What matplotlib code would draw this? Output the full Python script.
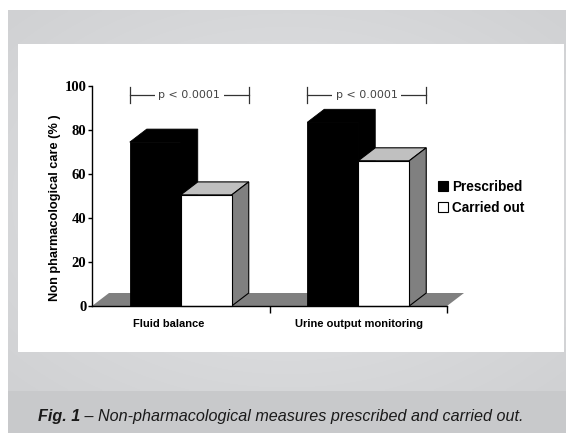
import numpy as np
import matplotlib
matplotlib.use('Agg')
import matplotlib.pyplot as plt
from matplotlib.patches import Rectangle, Polygon, Patch

# ---------------- data ----------------
categories = ['Fluid balance', 'Urine output monitoring']
series_names = ['Prescribed', 'Carried out']
prescribed = [74.5, 83.5]
carried_out = [50.5, 66.0]
p_labels = ['p < 0.0001', 'p < 0.0001']
y_ticks = [0, 20, 40, 60, 80, 100]
y_label = 'Non pharmacological care (% )'
caption_bold = 'Fig. 1'
caption_rest = ' \u2013 Non-pharmacological measures prescribed and carried out.'

# ---------------- figure ----------------
W, H = 566, 433
fig = plt.figure(figsize=(W / 100, H / 100), dpi=100)
fig.patch.set_facecolor('white')

SANS = ['Liberation Sans', 'DejaVu Sans']
SERIF = ['Liberation Serif', 'DejaVu Serif']

# background layer in pixel coordinates
bg = fig.add_axes([0, 0, 1, 1], zorder=0)
bg.set_xlim(0, W)
bg.set_ylim(H, 0)
bg.axis('off')

yy, xx = np.mgrid[0:120:1, 0:240:1]
r = np.sqrt(((xx / 239) - 0.5) ** 2 * 4 + ((yy / 119) - 0.5) ** 2 * 4) / np.sqrt(2)
c_center = np.array([228, 229, 231]) / 255
c_edge = np.array([208, 209, 211]) / 255
grad = c_center[None, None, :] + (c_edge - c_center)[None, None, :] * r[:, :, None]
bg.imshow(grad, extent=(8, W, 391, 10), aspect='auto', interpolation='bilinear', zorder=0)
bg.add_patch(Rectangle((18, 44), 546, 308, facecolor='white', edgecolor='none', zorder=1))
bg.add_patch(Rectangle((8, 391), W - 8, H - 391, facecolor='#c8c9cb', edgecolor='none', zorder=1))
bg.set_xlim(0, W)
bg.set_ylim(H, 0)

# ---------------- main axes ----------------
ax_l, ax_r, ax_top, ax_bot = 92, 447, 86, 306
ax = fig.add_axes([ax_l / W, (H - ax_bot) / H, (ax_r - ax_l) / W, (ax_bot - ax_top) / H], zorder=2)
ax.patch.set_alpha(0)
ax.set_xlim(-0.5, 1.5)
ax.set_ylim(0, 100)

x = np.arange(len(categories))
w = 0.2873
dx = 17 * 2.0 / (ax_r - ax_l)      # depth offset, data units
dy = 13 * 100.0 / (ax_bot - ax_top)

# floor
ax.add_patch(Polygon([(-0.5, 0), (1.5, 0), (1.5 + dx, dy), (-0.5 + dx, dy)],
                     closed=True, facecolor='#808080', edgecolor='none',
                     clip_on=False, zorder=1))

# prescribed (black) bars
ax.bar(x - w / 2, prescribed, w, color='black', edgecolor='black', linewidth=0.6,
       zorder=3, clip_on=False)
for xi, h in zip(x, prescribed):
    x0, x1 = xi - w, xi
    ax.add_patch(Polygon([(x0, h), (x0 + dx, h + dy), (x1 + dx, h + dy),
                          (x1 + dx, dy), (x1, 0), (x1, h)],
                         closed=True, facecolor='black', edgecolor='black',
                         linewidth=0.6, clip_on=False, zorder=2))

# carried out (white) bars
for xi, h in zip(x, carried_out):
    x1, x2 = xi, xi + w
    ax.add_patch(Polygon([(x1, h), (x1 + dx, h + dy), (x2 + dx, h + dy), (x2, h)],
                         closed=True, facecolor='#c0c0c0', edgecolor='black',
                         linewidth=0.8, clip_on=False, zorder=4))
    ax.add_patch(Polygon([(x2, 0), (x2, h), (x2 + dx, h + dy), (x2 + dx, dy)],
                         closed=True, facecolor='#808080', edgecolor='black',
                         linewidth=0.8, clip_on=False, zorder=4))
ax.bar(x + w / 2, carried_out, w, color='white', edgecolor='black', linewidth=0.8,
       zorder=5, clip_on=False)

# axes styling
for s in ['top', 'right']:
    ax.spines[s].set_visible(False)
ax.spines['left'].set_linewidth(1.0)
ax.spines['bottom'].set_linewidth(1.0)
ax.spines['left'].set_zorder(6)
ax.spines['bottom'].set_zorder(6)
ax.set_yticks(y_ticks)
ax.set_yticklabels([str(t) for t in y_ticks], family=SERIF, fontweight='bold', fontsize=10.5)
ax.tick_params(axis='y', direction='out', length=3, width=1, pad=1)
ax.set_xticks([0.5, 1.5])
ax.set_xticklabels(['', ''])
ax.tick_params(axis='x', direction='out', length=5, width=1)

# category labels
label_offsets = [-12, 1]
for xi, lab, off in zip(x, categories, label_offsets):
    ax.annotate(lab, xy=(xi, 0), xytext=(off, -18), textcoords='offset pixels',
                ha='center', va='center', family=SANS, fontweight='bold', fontsize=8,
                annotation_clip=False)

# significance brackets
y_br = 95.9
tick_h = 3.8
for xi, p in zip(x, p_labels):
    xa = xi - w
    xb = xi + w + dx
    ax.plot([xa, xb], [y_br, y_br], color='#333333', lw=0.9, clip_on=False, zorder=6)
    ax.plot([xa, xa], [y_br - tick_h, y_br + tick_h], color='#333333', lw=0.9, clip_on=False, zorder=6)
    ax.plot([xb, xb], [y_br - tick_h, y_br + tick_h], color='#333333', lw=0.9, clip_on=False, zorder=6)
    ax.text((xa + xb) / 2, y_br, p, ha='center', va='center', fontsize=8,
            family=['DejaVu Sans'], color='#444444', zorder=7,
            bbox=dict(facecolor='white', edgecolor='none', pad=2.5))

# legend
handles = [Patch(facecolor='black', edgecolor='black', linewidth=0.8),
           Patch(facecolor='white', edgecolor='black', linewidth=0.8)]
ax.legend(handles, series_names, loc='upper left',
          bbox_to_anchor=(438 / W, 1 - 180 / H), bbox_transform=fig.transFigure,
          frameon=False, prop=dict(family=SANS, weight='bold', size=9.8),
          handlelength=0.75, handleheight=0.75, handletextpad=0.3,
          labelspacing=0.5, borderpad=0, borderaxespad=0)

# y label
fig.text(55 / W, 1 - 207.5 / H, y_label, rotation=90, ha='center', va='center',
         family=SANS, fontweight='bold', fontsize=9.2)

# caption
t1 = bg.text(38, 421, caption_bold, ha='left', va='baseline', family=SANS,
             fontstyle='italic', fontweight='bold', fontsize=11.6, color='#1a1a1a', zorder=3)
bg.annotate(caption_rest, xy=(1, 0), xycoords=t1, ha='left', va='bottom',
            family=SANS, fontstyle='italic', fontsize=11.6, color='#1a1a1a', zorder=3)

fig.savefig('out.png', dpi=100, facecolor=fig.get_facecolor())
